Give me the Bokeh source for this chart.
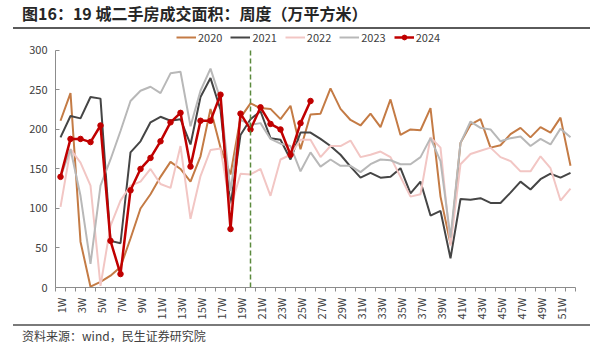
from bokeh.plotting import figure
from bokeh.models import Div, FixedTicker, Legend, LegendItem, Range1d
from bokeh.layouts import column
from bokeh.embed import file_html
from bokeh.resources import INLINE
import math

title_text = "图16：19 城二手房成交面积：周度（万平方米）"
source_text = "资料来源：wind，民生证券研究院"

weeks = [f"{i}W" for i in range(1, 53)]
marker_week = "20W"
y_ticks = [0, 50, 100, 150, 200, 250, 300]

s2020 = [211, 246, 58, 1, 7, 15, 26, 62, 100, 118, 140, 159, 150, 134, 166, 226, 177, 143, 215, 233,
         227, 226, 213, 230, 175, 219, 220, 252, 226, 212, 205, 220, 203, 238, 193, 200, 199, 227, 115, 55,
         183, 206, 213, 177, 180, 194, 202, 190, 203, 196, 215, 154]
s2021 = [190, 217, 214, 241, 239, 59, 56, 171, 185, 209, 216, 211, 213, 181, 241, 265, 225, 103, 193, 213,
         223, 189, 187, 162, 196, 196, 188, 179, 168, 153, 139, 145, 139, 140, 151, 119, 134, 91, 97, 37,
         112, 111, 113, 107, 107, 120, 134, 124, 137, 144, 139, 145]
s2022 = [102, 175, 158, 129, 2, 78, 110, 129, 134, 150, 131, 126, 179, 87, 141, 174, 176, 100, 144, 143,
         150, 116, 162, 168, 187, 187, 165, 179, 179, 186, 165, 168, 172, 165, 140, 115, 118, 190, 177, 53,
         156, 169, 173, 177, 165, 160, 147, 147, 166, 151, 110, 125]
s2023 = [140, 175, 116, 30, 129, 162, 198, 236, 249, 254, 246, 271, 273, 204, 249, 277, 238, 122, 212, 206,
         208, 188, 182, 179, 147, 171, 153, 162, 154, 154, 146, 156, 162, 161, 156, 156, 165, 189, 160, 63,
         183, 210, 202, 200, 185, 189, 191, 179, 188, 181, 201, 190]
s2024 = [140, 188, 188, 184, 205, 59, 17, 123, 150, 164, 185, 209, 221, 153, 211, 211, 244, 74, 220, 200,
         228, 207, 200, 168, 208, 236]

series_names = ["2020", "2021", "2022", "2023", "2024"]
series_vals = [s2020, s2021, s2022, s2023, s2024]
colors = ["#c47b45", "#454545", "#f2c6c4", "#b8b8b8", "#c00000"]
widths = [2, 2, 2, 2, 2.5]

FONT = "Noto Sans CJK SC"

title_div = Div(
    text=(f'<div style="position:relative;width:596px;height:30px;">'
          f'<div style="position:absolute;left:22px;top:2px;font-family:\'{FONT}\';font-weight:bold;'
          f'font-size:16px;color:#262626;white-space:nowrap;">{title_text}</div>'
          f'<div style="position:absolute;left:13px;top:27px;width:577px;height:2px;background:#5a5a5a;"></div>'
          f'</div>'),
    width=596, height=30, margin=(0, 0, 0, 0))

# frame spans 258 px; the 0..300 axis occupies the lower 238 px, legend sits in the top 20 px
y_top = 300 * 258 / 238
p = figure(width=596, height=292, output_backend="svg", toolbar_location=None,
           min_border_left=55, min_border_right=21, min_border_top=0, min_border_bottom=34,
           x_range=Range1d(0.5, len(weeks) + 0.5), y_range=Range1d(0, y_top))
p.outline_line_color = None
p.xgrid.visible = False
p.ygrid.visible = False
p.background_fill_color = "white"
p.border_fill_color = "white"

x = list(range(1, len(weeks) + 1))
items = []
for name, vals, c, w in zip(series_names, series_vals, colors, widths):
    xs = x[:len(vals)]
    r = p.line(xs, vals, line_color=c, line_width=w)
    rs = [r]
    if name == "2024":
        m = p.scatter(xs, vals, size=5.5, fill_color=c, line_color=c)
        rs.append(m)
    items.append(LegendItem(label=name, renderers=rs))

mx = weeks.index(marker_week) + 1
p.segment(x0=[mx], y0=[y_ticks[0]], x1=[mx], y1=[y_ticks[-1]], line_color="#5b8a3c",
          line_dash="5 3", line_width=1.5)

legend = Legend(items=items, orientation="horizontal", location=(121, 242),
                glyph_width=20, glyph_height=12, label_height=12, label_standoff=2, spacing=8,
                padding=2, margin=0, border_line_color=None, background_fill_alpha=0,
                label_text_font=FONT, label_text_font_size="11px", label_text_color="#404040")
p.add_layout(legend, "center")

# y axis
ya = p.yaxis[0]
ya.ticker = FixedTicker(ticks=y_ticks)
ya.bounds = (y_ticks[0], y_ticks[-1])
ya.major_tick_in = 4
ya.major_tick_out = 0
ya.minor_tick_line_color = None
ya.axis_line_color = "#8c8c8c"
ya.major_tick_line_color = "#8c8c8c"
ya.major_label_text_font = FONT
ya.major_label_text_font_size = "11px"
ya.major_label_text_color = "#404040"
ya.major_label_standoff = 8

# x axis
xa = p.xaxis[0]
odd_idx = list(range(1, len(weeks) + 1, 2))
xa.ticker = FixedTicker(ticks=odd_idx, minor_ticks=[i + 0.5 for i in range(0, len(weeks) + 1)])
xa.major_label_overrides = {i: weeks[i - 1] for i in odd_idx}
xa.major_label_orientation = math.pi / 2
xa.major_tick_in = 0
xa.major_tick_out = 0
xa.minor_tick_in = 0
xa.minor_tick_out = 4
xa.minor_tick_line_color = "#8c8c8c"
xa.axis_line_color = "#8c8c8c"
xa.major_label_text_font = FONT
xa.major_label_text_font_size = "11px"
xa.major_label_text_color = "#404040"
xa.major_label_standoff = 6

foot_div = Div(
    text=(f'<div style="position:relative;width:596px;height:24px;">'
          f'<div style="position:absolute;left:13px;top:2px;width:577px;height:1.5px;background:#7a7a7a;"></div>'
          f'<div style="position:absolute;left:22px;top:5px;font-family:\'{FONT}\';'
          f'font-size:12px;color:#404040;white-space:nowrap;">{source_text}</div>'
          f'</div>'),
    width=596, height=24, margin=(0, 0, 0, 0))

layout = column(title_div, p, foot_div, spacing=0)
open("out.html", "w").write(file_html(layout, INLINE))
